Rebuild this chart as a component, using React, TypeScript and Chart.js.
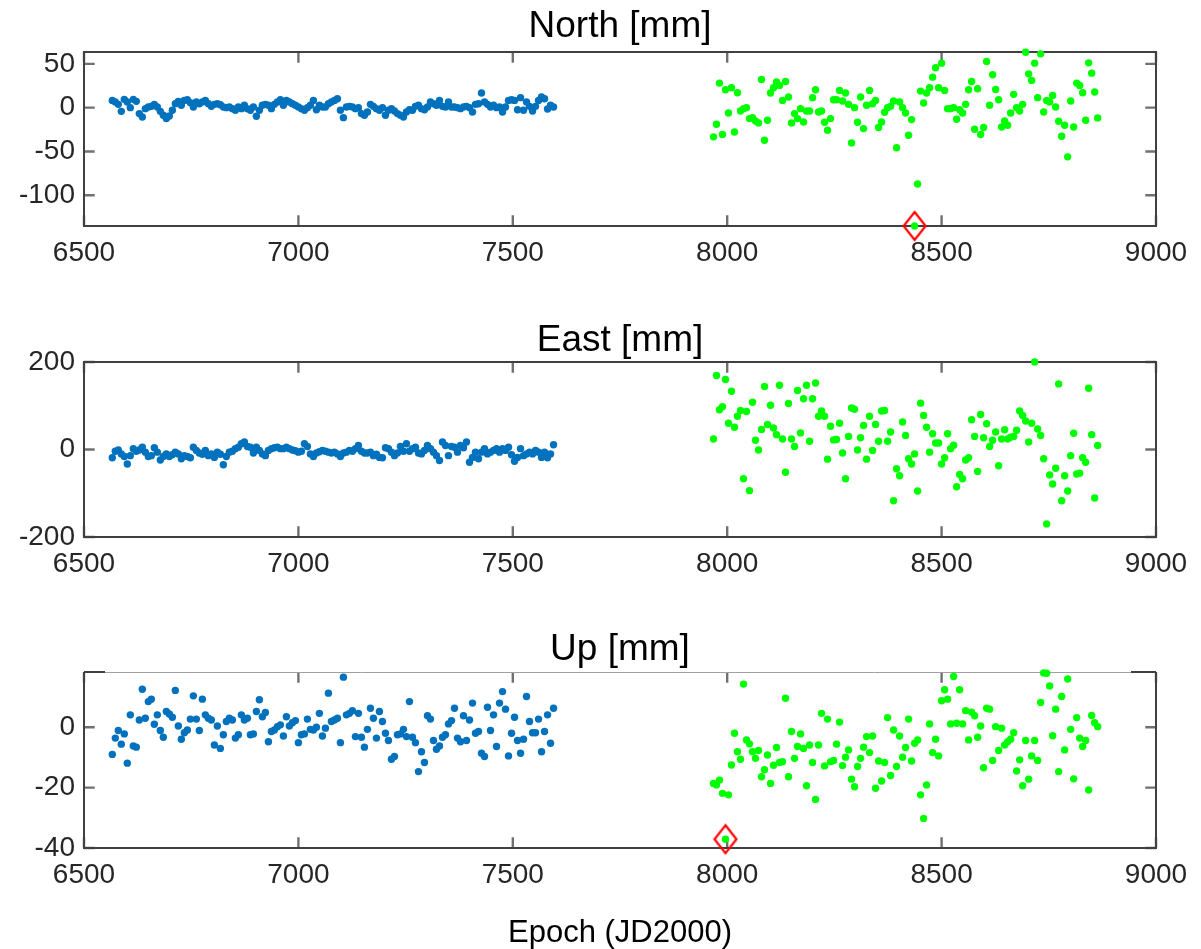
import React, { useEffect, useRef } from 'react';
import { Chart, registerables } from 'chart.js';

Chart.register(...registerables);

// ---------- data ----------
const blueEpochs = [
  6566, 6573, 6580, 6587, 6594, 6601, 6608, 6615, 6622, 6629,
  6636, 6643, 6650, 6657, 6664, 6671, 6678, 6685, 6692, 6699,
  6706, 6713, 6720, 6727, 6734, 6741, 6748, 6755, 6762, 6769,
  6776, 6783, 6790, 6797, 6804, 6811, 6818, 6825, 6832, 6839,
  6846, 6853, 6860, 6867, 6874, 6881, 6888, 6895, 6902, 6909,
  6916, 6923, 6930, 6937, 6944, 6951, 6958, 6965, 6972, 6979,
  6986, 6993, 7000, 7007, 7014, 7021, 7028, 7035, 7042, 7049,
  7056, 7063, 7070, 7077, 7084, 7091, 7098, 7105, 7112, 7119,
  7126, 7133, 7140, 7147, 7154, 7161, 7168, 7175, 7182, 7189,
  7196, 7203, 7210, 7217, 7224, 7231, 7238, 7245, 7252, 7259,
  7266, 7273, 7280, 7287, 7294, 7301, 7308, 7315, 7322, 7329,
  7336, 7343, 7350, 7357, 7364, 7371, 7378, 7385, 7392, 7399,
  7406, 7413, 7420, 7427, 7434, 7441, 7448, 7455, 7462, 7469,
  7476, 7483, 7490, 7497, 7504, 7511, 7518, 7525, 7532, 7539,
  7546, 7553, 7560, 7567, 7574, 7581, 7588, 7595,
];

const greenEpochs = [
  7968, 7975, 7982, 7989, 7996, 8003, 8010, 8017, 8024, 8031,
  8038, 8045, 8052, 8059, 8066, 8073, 8080, 8087, 8094, 8101,
  8108, 8115, 8122, 8129, 8136, 8143, 8150, 8157, 8164, 8171,
  8178, 8185, 8192, 8199, 8206, 8213, 8220, 8227, 8234, 8241,
  8248, 8255, 8262, 8269, 8276, 8283, 8290, 8297, 8304, 8311,
  8318, 8325, 8332, 8339, 8346, 8353, 8360, 8367, 8374, 8381,
  8388, 8395, 8402, 8409, 8416, 8423, 8430, 8437, 8444, 8451,
  8458, 8465, 8472, 8479, 8486, 8493, 8500, 8507, 8514, 8521,
  8528, 8535, 8542, 8549, 8556, 8563, 8570, 8577, 8584, 8591,
  8598, 8605, 8612, 8619, 8626, 8633, 8640, 8647, 8654, 8661,
  8668, 8675, 8682, 8689, 8696, 8703, 8710, 8717, 8724, 8731,
  8738, 8745, 8752, 8759, 8766, 8773, 8780, 8787, 8794, 8801,
  8808, 8815, 8822, 8829, 8836, 8843, 8850, 8857, 8864,
];

const northBlue = [
  8.3, 6.4, 3.8, -4.2, 9.5, 6.4, 0, 9.5, 7.2,
  -6.8, -10.6, -1.1, 0.8, 1.5, 3.8, 0.8, -4.2, -8.7, -12.5,
  -9.5, -3, 4.5, 7.2, 2.7, 8.3, 9.1, 5.7, 0.8, 6.4,
  4.5, 6.4, 8.3, 4.5, 1.5, 3.8, 4.5, 3.4, 0.8,
  0, 0.8, -1.1, -3, 0.8, -1.1, 2.7, -1.1, -3, 0.8,
  -9.8, -3, 2.7, 3.8, 2.7, -1.1, 3.8, 6.4, 9.1, 2.7,
  8.3, 6.4, 4.5, 2.7, 0.8, -1.1, -3, 0, 2.7, 8.3,
  -2.3, 2.7, 0.8, 0.8, 4.5, 6.4, 8.3, 10.2, -3,
  -11.4, 0.8, 1.5, 0.8, -1.1, 0, -6.8, -8.7, -4.9, 3.8,
  1.5, -1.1, -3, 0, -8.7, -3, -1.1, -3.8, -6.8, -8.7,
  -10.6, -4.9, -2.3, -3, 1.5, 2.7, -1.1, -2.3, 0.8,
  6.4, 4.5, 2.7, 8.3, 1.5, 0.8, 6.4, 0.8, 0.8, 0,
  -1.1, 0.8, 1.5, 0, -4.9, 3.8, 4.5, 16.7, 6.4, 3.8,
  0.8, 2.7, 0, 0.8, -4.9, 0.8, 8.3, 9.1, 8.3, -2.3,
  11.4, -3, 6.4, 1.5, -3.8, 1.5, 8.3, 12.1, 10.2,
  -1.5, 2.7, 0.8,
];

const northGreen = [
  -33.3, -18.9, 28.0, -30.7, 20.5, -6.1, 22.7, -27.7, 17.0, -3.8,
  -1.1, 0, -12.5, -11.4, -15.2, -17.4, 32.2, -37.1, -14.4, 16.7,
  22.7, 29.2, 25.4, 8.3, 29.9, 12.1, -17.4, -6.8, -12.5, -1.1,
  -16.3, -3.8, -3.8, 11.4, 20.5, -4.9, -3.8, -16.7, -25.8, -12.5,
  9.1, 9.1, 19.7, 7.6, 16.7, 3.8, -40.2, 0, -16.7, 12.1,
  -23.9, 2.7, 19.7, 4.5, 8.3, -22.7, -16.3, -5.3, 0, 1.5,
  7.6, -45.8, 6.4, 0, -6.1, -31.4, -13.6, -135, -87.1, 18.9,
  5.3, 16.7, 22.7, 34.8, 45.5, 22.7, 50.8, 19.7, -1.1, -1.1,
  0, -13.3, -2.3, -6.1, 3.8, 20.5, 29.9, -24.6, 21.6, -30.7,
  -22.7, 52.7, 2.7, 37.5, 20.8, 9.1, -22.0, -15.2, -20.1, -6.1,
  15.2, 0, -3.8, 3.8, 63.3, 38.6, 31.1, 50.8, 11.4, 61.4,
  -4.9, 8.3, 6.4, 14.0, 0.8, -15.5, -32.6, -20.1, -56.1, 7.6,
  -22.0, 28.0, 25.4, 17.0, -14.4, 51.1, 39.4, 17.8, -11.7,
];

const eastBlue = [
  -19, -4, -1, -10, -16, -33, -14, 2, -4, -1,
  5, -6, -16, -14, 4, -6, -24, -16, -10, -16, -12,
  -6, -10, -21, -14, -16, -19, 5, -2, -8, -11,
  -2, -14, -10, -18, -6, -11, -35, -16, -6, -4,
  2, 5, 13, 17, 7, 5, -8, 5, -2, -10,
  -14, -2, 2, 4, 5, 2, 2, 5, 2, -1, -3,
  -6, -4, 13, 7, -10, -16, -8, -5, -2, -4,
  -6, -8, -6, -10, -16, -8, -6, -2, -4, 2,
  9, -4, -8, -8, -6, -14, -11, -18, -19, 4,
  2, -6, -14, -8, 7, -4, 13, -4, 2, 5, -8,
  -10, -2, 9, 2, -6, -14, -25, 17, 9, -14,
  7, 5, -6, 9, 4, 17, -29, -18, -6, -21,
  -6, 2, -10, -6, -2, 2, -6, 2, -2, 5, -12,
  -27, -18, 2, -14, -10, -6, -10, -2, -6, -18, -6, -19, -10, 11,
];

const eastGreen = [
  24, 169, 91, 98, 160, 60, 133, 51, 76, 89,
  -67, 87, -94, 108, 21, -1, 46, 144, 57, 101,
  49, 34, 147, 24, -52, 105, 24, 7, 135, 38,
  116, 147, 19, 116, 152, 76, 88, 76, -22, 53,
  22, 23, 60, -8, -67, 30, 95, 92, -1, 27,
  55, -22, 76, -2, 57, 19, 88, 89, 19, 40,
  -117, -44, -60, 63, 32, -21, -33, -10, -95, 106,
  78, 51, -6, 36, 15, 15, -33, -19, 36, 2, 10,
  -85, -57, -67, -24, -19, 68, 30, -50, 80, 27,
  59, 7, 21, 40, -37, 24, 45, 24, 28, 30,
  44, 88, 78, 65, 17, 60, 200, 47, 32, -21,
  -170, -58, -79, -43, 150, -117, -60, -95, -14, 37,
  -56, -54, -19, -29, 140, 34, -111, 9,
];

const upBlue = [
  -9.0, -3.6, -1.1, -5.6, -2.2, -11.9, 4.1, -6.2, -6.6, 2.4,
  12.6, 3.0, 8.5, 9.3, 1.0, 4.1, -1.1, -3.3, 5.2, 4.4,
  3.3, 12.2, 0.4, -4.0, -1.8, -0.9, 2.7, 10.4, 2.7, -1.1,
  9.3, 4.1, 3.0, 2.4, -5.9, 0.4, -7.0, -2.5, 1.9, 3.0,
  2.4, -3.6, -2.5, 4.1, 2.4, 3.0, -2.5, -2.2, 5.2, 9.1,
  3.5, 4.9, -4.8, -1.4, -0.9, 0.2, 0.8, -2.9, 3.5, 0.4, 1.5,
  2.2, -5.1, -2.5, -2.2, 2.7, -0.7, -0.9, 0, 4.6, -2.9,
  -0.3, 11.3, 1.9, 2.4, 3.0, -5.1, 16.6, 4.1, 4.6, 5.5,
  -3.1, 4.6, -3.3, -6.6, -0.7, 6.3, 3.0, -3.6, 5.2, 1.9,
  -2.0, -4.4, -10.6, -9.7, -2.5, -2.2, -0.7, -3.1, 8.5, -3.3,
  -5.1, -14.7, -8.1, -11.7, 3.8, 2.7, -4.4, -7.3, -6.2, -3.3,
  -2.5, 1.1, 2.2, 6.3, -3.6, -4.8, 3.8, -4.4, 2.4, 8.0, -2,
  -1.4, -8.6, -9.7, 6.6, -1.1, 4.1, -6.4, 8.0, 11.8, 6.0,
  -9.5, -2.0, 3.3, -4.4, -8.6, -4.0, 10.2, 1.9, -1.8, -1.8,
  2.7, -8.1, -1.4, 4.1, -5.3, 6.3,
];

const upGreen = [
  -18.6, -19.1, -17.5, -21.9, -37.1, -22.4, -12.5, -2.0, -8.1, -10.6,
  14.3, -4.2, -5.5, -8.1, -10.3, -7.7, -16.4, -14.1, -9.2, -18.6,
  -12.6, -6.7, -11.7, -11.4, 9.6, -16.4, -1.4, -10.3, -6.4, -2.2,
  -7.0, -19.4, -5.9, -11.7, -23.9, -5.9, 4.6, -12.8, 2.7, -11.4,
  -11.0, -5.6, 1.7, -12.7, -9.9, -7.5, -17.2, -19.7, -13.0, -10.3,
  -6.6, -3.1, -8.4, -2.9, -20.2, -11.2, -17.8, -11.7, 3.2, -16.0,
  -0.9, -13.0, -2.9, -9.9, -6.7, 2.7, -11.2, -5.3, -4.2, -22.4,
  -30.2, -19.1, 1.1, -8.4, -4.0, -9.5, 8.8, 12.4, 9.3, 1.1,
  16.8, 1.3, 12.4, 1.1, 5.5, -4.2, 5.0, 3.8, -3.3, 0.4,
  -13.4, 6.3, 6.0, -11.0, 0.2, -7.7, -0.3, -5.9, -4.8, -4.0,
  -1.8, -14.5, -10.8, -19.4, -4.4, -17.2, -9.5, -4.4, -11.0, 8.2, 18.0,
  17.9, 13.7, -2.8, 6.0, -14.7, 10.2, -7.5, 16.0, -0.7, -17.1,
  3.2, -3.6, -6.4, -4.4, -20.8, 3.9, 1.5, 0.2,
];

const northOutlierEpoch = [8437];
const northOutlierValue = [-135];
const upOutlierEpoch = [7996];
const upOutlierValue = [-37.1];

const xTickValues = [6500, 7000, 7500, 8000, 8500, 9000];
const xRange = [6500, 9000];
const northYTicks = [-100, -50, 0, 50];
const eastYTicks = [-200, 0, 200];
const upYTicks = [-40, -20, 0];
const northRange = [-135, 63.5];
const eastRange = [-200, 200];
const upRange = [-40, 18.3];

const panelTitles = ['North [mm]', 'East [mm]', 'Up [mm]'];
const xAxisLabel = 'Epoch (JD2000)';

// ---------- styling ----------
const BLUE = '#0072BD';
const GREEN = '#00FF00';
const TEXT = '#262626';
const FONT = "'Liberation Sans', Arial, Helvetica, sans-serif";

function makeDiamond(): HTMLCanvasElement {
  const c = document.createElement('canvas');
  c.width = 26;
  c.height = 32;
  const g = c.getContext('2d') as CanvasRenderingContext2D;
  g.strokeStyle = '#FF0000';
  g.lineWidth = 2.2;
  g.beginPath();
  g.moveTo(13, 2);
  g.lineTo(24, 16);
  g.lineTo(13, 30);
  g.lineTo(2, 16);
  g.closePath();
  g.stroke();
  return c;
}

const boxPlugin = {
  id: 'matlabBox',
  beforeDatasetsDraw(chart: any, _args: any, opts: any) {
    const { ctx, chartArea: a, scales } = chart;
    const xs = scales.x;
    const ys = scales.y;
    const len = 10.7;
    ctx.save();
    ctx.strokeStyle = '#707070';
    ctx.lineWidth = 2.4;
    ctx.beginPath();
    xs.ticks.forEach((t: any) => {
      const p = xs.getPixelForValue(t.value);
      ctx.moveTo(p, a.bottom);
      ctx.lineTo(p, a.bottom - len);
      ctx.moveTo(p, a.top);
      ctx.lineTo(p, a.top + len);
    });
    ys.ticks.forEach((t: any) => {
      const p = ys.getPixelForValue(t.value);
      ctx.moveTo(a.left, p);
      ctx.lineTo(a.left + len, p);
      ctx.moveTo(a.right, p);
      ctx.lineTo(a.right - len, p);
    });
    ctx.stroke();

    ctx.strokeStyle = '#404040';
    ctx.lineWidth = 2;
    if (opts && opts.lightTop) {
      ctx.beginPath();
      ctx.moveTo(a.left, a.top);
      ctx.lineTo(a.left, a.bottom);
      ctx.lineTo(a.right, a.bottom);
      ctx.lineTo(a.right, a.top);
      ctx.stroke();
      ctx.beginPath();
      ctx.moveTo(a.left, a.top);
      ctx.lineTo(a.left + 21, a.top);
      ctx.moveTo(a.right - 25, a.top);
      ctx.lineTo(a.right, a.top);
      ctx.stroke();
      ctx.strokeStyle = '#a0a0a0';
      ctx.lineWidth = 1;
      ctx.beginPath();
      ctx.moveTo(a.left + 21, a.top + 0.5);
      ctx.lineTo(a.right - 25, a.top + 0.5);
      ctx.stroke();
    } else {
      ctx.strokeRect(a.left, a.top, a.width, a.height);
    }
    ctx.restore();
  },
};

type PanelSpec = {
  top: number;
  height: number;
  title: string;
  titlePadTop: number;
  topAxisHeight: number;
  bottomPad: number;
  xAxisHeight: number;
  yTicks: number[];
  yRange: number[];
  blue: number[];
  green: number[];
  outlierX?: number[];
  outlierY?: number[];
  showXLabel: boolean;
  lightTop: boolean;
};

const panels: PanelSpec[] = [
  {
    top: 0, height: 300, title: panelTitles[0], titlePadTop: 4.1, topAxisHeight: 52,
    bottomPad: 24, xAxisHeight: 50, yTicks: northYTicks, yRange: northRange,
    blue: northBlue, green: northGreen, outlierX: northOutlierEpoch, outlierY: northOutlierValue,
    showXLabel: false, lightTop: false,
  },
  {
    top: 300, height: 310, title: panelTitles[1], titlePadTop: 18.1, topAxisHeight: 62,
    bottomPad: 23, xAxisHeight: 50, yTicks: eastYTicks, yRange: eastRange,
    blue: eastBlue, green: eastGreen, showXLabel: false, lightTop: false,
  },
  {
    top: 610, height: 339, title: panelTitles[2], titlePadTop: 17.6, topAxisHeight: 62,
    bottomPad: 0, xAxisHeight: 101, yTicks: upYTicks, yRange: upRange,
    blue: upBlue, green: upGreen, outlierX: upOutlierEpoch, outlierY: upOutlierValue,
    showXLabel: true, lightTop: true,
  },
];

function buildChart(canvas: HTMLCanvasElement, p: PanelSpec, diamond: HTMLCanvasElement) {
  const datasets: any[] = [
    {
      label: 'before',
      data: blueEpochs.map((e, i) => ({ x: e, y: p.blue[i] })),
      backgroundColor: BLUE,
      borderWidth: 0,
      pointRadius: 3.7,
      clip: false,
    },
    {
      label: 'after',
      data: greenEpochs.map((e, i) => ({ x: e, y: p.green[i] })),
      backgroundColor: GREEN,
      borderWidth: 0,
      pointRadius: 3.7,
      clip: false,
    },
  ];
  if (p.outlierX && p.outlierY) {
    const oy = p.outlierY;
    datasets.push({
      label: 'outlier',
      data: p.outlierX.map((e, i) => ({ x: e, y: oy[i] })),
      pointStyle: diamond,
      pointRadius: 12,
      clip: false,
    });
  }
  const tickFont = { family: FONT, size: 28 };
  return new Chart(canvas, {
    type: 'scatter',
    data: { datasets },
    plugins: [boxPlugin as any],
    options: {
      responsive: false,
      maintainAspectRatio: false,
      animation: false,
      devicePixelRatio: 1,
      events: [],
      layout: { padding: { left: 0, right: 45, top: 0, bottom: p.bottomPad } },
      plugins: {
        legend: { display: false },
        tooltip: { enabled: false },
        title: { display: false },
        matlabBox: { lightTop: p.lightTop },
      } as any,
      scales: {
        x: {
          type: 'linear',
          position: 'bottom',
          min: xRange[0],
          max: xRange[1],
          afterBuildTicks: (s: any) => {
            s.ticks = xTickValues.map((v) => ({ value: v }));
          },
          afterFit: (s: any) => {
            s.height = p.xAxisHeight;
          },
          grid: { display: false, drawTicks: false },
          border: { display: false },
          ticks: {
            padding: 10.5,
            color: TEXT,
            font: tickFont,
            maxRotation: 0,
            autoSkip: false,
            callback: (v: any) => String(v),
          },
          title: {
            display: p.showXLabel,
            text: xAxisLabel,
            color: '#000',
            font: { family: FONT, size: 31, lineHeight: 1.0 },
            padding: { top: 0, bottom: 0 },
          },
        },
        xTop: {
          type: 'linear',
          position: 'top',
          min: xRange[0],
          max: xRange[1],
          afterFit: (s: any) => {
            s.height = p.topAxisHeight;
          },
          grid: { display: false, drawTicks: false },
          border: { display: false },
          ticks: { display: false },
          title: {
            display: true,
            text: p.title,
            color: '#000',
            font: { family: FONT, size: 37, weight: 'normal', lineHeight: 1.2 },
            padding: { top: p.titlePadTop, bottom: 0 },
          },
        },
        y: {
          type: 'linear',
          position: 'left',
          min: p.yRange[0],
          max: p.yRange[1],
          afterBuildTicks: (s: any) => {
            s.ticks = p.yTicks.map((v) => ({ value: v }));
          },
          afterFit: (s: any) => {
            s.width = 84;
          },
          grid: { display: false, drawTicks: false },
          border: { display: false },
          ticks: {
            padding: 9,
            color: TEXT,
            font: tickFont,
            autoSkip: false,
            callback: (v: any) => String(v),
          },
        },
      },
    } as any,
  });
}

export default function App() {
  const refs = [
    useRef<HTMLCanvasElement | null>(null),
    useRef<HTMLCanvasElement | null>(null),
    useRef<HTMLCanvasElement | null>(null),
  ];

  useEffect(() => {
    const diamond = makeDiamond();
    const charts = panels.map((p, i) => buildChart(refs[i].current as HTMLCanvasElement, p, diamond));
    return () => {
      charts.forEach((c) => c.destroy());
    };
  }, []);

  return (
    <div
      style={{
        position: 'absolute',
        left: 0,
        top: 0,
        width: 1201,
        height: 949,
        background: '#ffffff',
        overflow: 'hidden',
      }}
    >
      {panels.map((p, i) => (
        <canvas
          key={i}
          ref={refs[i]}
          width={1201}
          height={p.height}
          style={{ position: 'absolute', left: 0, top: p.top, width: 1201, height: p.height }}
        />
      ))}
    </div>
  );
}
